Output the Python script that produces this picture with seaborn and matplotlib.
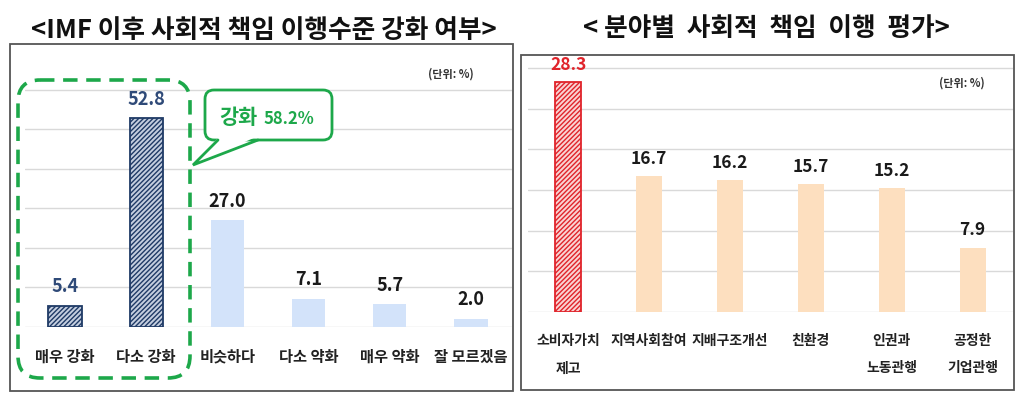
import matplotlib
matplotlib.use("Agg")
from matplotlib import pyplot as plt
from matplotlib.patches import FancyBboxPatch, Polygon, Rectangle
import seaborn as sns
import pandas as pd

# left chart: IMF 이후 사회적 책임 이행수준 강화 여부
left_cats = ['매우 강화', '다소 강화', '비슷하다', '다소 약화', '매우 약화', '잘 모르겠음']
left_vals = [5.4, 52.8, 27.0, 7.1, 5.7, 2.0]
left_hi = [True, True, False, False, False, False]

# right chart: 분야별 사회적 책임 이행 평가
right_cats = ['소비자가치\n제고', '지역사회참여', '지배구조개선', '친환경', '인권과\n노동관행', '공정한\n기업관행']
right_vals = [28.3, 16.7, 16.2, 15.7, 15.2, 7.9]
right_hi = [True, False, False, False, False, False]

left_title = '<IMF 이후 사회적 책임 이행수준 강화 여부>'
right_title = '< 분야별  사회적  책임  이행  평가>'
callout_word = '강화'
callout_value = '58.2%'
unit_text = '(단위: %)'

FONT = ['Noto Sans CJK KR', 'DejaVu Sans']
GREEN = '#1DA84A'
NAVY = '#1F3A66'
RED = '#E0242B'

sns.set_theme(style='white')
plt.rcParams['font.family'] = FONT
plt.rcParams['hatch.linewidth'] = 1.0

W, H = 1024, 398
fig = plt.figure(figsize=(W / 100, H / 100), dpi=100)


def px_axes(x0, x1, y_base, y_top):
    # axes placed by pixel coordinates (y measured from top)
    return fig.add_axes([x0 / W, 1 - y_base / H, (x1 - x0) / W, (y_base - y_top) / H])


def draw_bars(ax, cats, vals, hi, base_col, hi_face, hi_edge, width, hatch):
    df = pd.DataFrame({'cat': cats, 'val': vals})
    pal = [hi_face if h else base_col for h in hi]
    sns.barplot(data=df, x='cat', y='val', hue='cat', palette=pal, legend=False,
                width=width, ax=ax, saturation=1)
    for p, h in zip(ax.patches, hi):
        if h:
            p.set_hatch(hatch)
            p.set_edgecolor(hi_edge)
            p.set_linewidth(1.3)
        else:
            p.set_linewidth(0)
    ax.set_xlabel('')
    ax.set_ylabel('')
    ax.set_yticklabels([])
    ax.tick_params(left=False, bottom=False)
    for s in ax.spines.values():
        s.set_visible(False)
    ax.set_xlim(-0.5, len(cats) - 0.5)


# ---- left chart ----
axl = px_axes(24.5, 511.5, 327, 74)
draw_bars(axl, left_cats, left_vals, left_hi, '#D3E3FA', '#C4CEDF', NAVY, 0.41, '///////')
axl.set_ylim(0, 64)
axl.set_yticks(range(0, 61, 10))
axl.grid(axis='y', color='#D9D9D9', lw=1)
axl.set_axisbelow(True)
axl.tick_params(axis='x', pad=9.5, labelsize=11)
for t in axl.get_xticklabels():
    t.set_fontweight('bold')
    t.set_color('#222222')
for i, v in enumerate(left_vals):
    axl.annotate(f'{v:.1f}', (i, v), xytext=(0, 7), textcoords='offset points',
                 ha='center', va='bottom', fontsize=13, fontweight='bold',
                 color='#2F4A78' if left_hi[i] else '#1A1A1A')

# ---- right chart ----
axr = px_axes(528, 1013, 312, 60)
draw_bars(axr, right_cats, right_vals, right_hi, '#FDDFBF', '#F9D3D3', RED, 0.32, '///////')
axr.set_ylim(0, 31)
axr.set_yticks(range(0, 31, 5))
axr.grid(axis='y', color='#D9D9D9', lw=1)
axr.set_axisbelow(True)
axr.tick_params(axis='x', pad=10, labelsize=10)
for t in axr.get_xticklabels():
    t.set_fontweight('bold')
    t.set_color('#222222')
    t.set_linespacing(2.2)
for i, v in enumerate(right_vals):
    axr.annotate(f'{v:.1f}', (i, v), xytext=(0, 6), textcoords='offset points',
                 ha='center', va='bottom', fontsize=12.5, fontweight='bold',
                 color=RED if right_hi[i] else '#1A1A1A')

# ---- overlay in pixel coordinates ----
ov = fig.add_axes([0, 0, 1, 1], zorder=10)
ov.set_xlim(0, W)
ov.set_ylim(H, 0)
ov.axis('off')

# panel frames
ov.add_patch(Rectangle((10, 44), 503, 347, fill=False, ec='#555555', lw=1.3))
ov.add_patch(Rectangle((521, 55), 493, 335, fill=False, ec='#555555', lw=1.3))

# titles
ov.text(264, 30, left_title, ha='center', va='center', fontsize=18.5, fontweight='bold', color='#111111')
ov.text(766, 29, right_title, ha='center', va='center', fontsize=18.5, fontweight='bold', color='#111111')

# unit labels
ov.text(451, 74, unit_text, ha='center', va='center', fontsize=8, fontweight='bold', color='#333333')
ov.text(962, 83, unit_text, ha='center', va='center', fontsize=8, fontweight='bold', color='#333333')

# green dashed group box
ov.add_patch(FancyBboxPatch((18, 80), 172, 298, boxstyle='round,pad=0,rounding_size=22',
                            fill=False, ec=GREEN, lw=2.6, ls=(0, (4, 2.4))))

# callout
ov.add_patch(FancyBboxPatch((205, 90), 127, 50, boxstyle='round,pad=0,rounding_size=9',
                            fc='white', ec=GREEN, lw=2))
ov.add_patch(Polygon([(219, 137), (194, 164), (256, 137)], closed=True, fc='white', ec='none', zorder=3))
ov.plot([218, 193, 258], [140, 165, 140], color=GREEN, lw=2, solid_joinstyle='miter', zorder=4)
ov.text(238, 117, callout_word, ha='center', va='center', fontsize=15, fontweight='bold', color=GREEN)
ov.text(289, 119, callout_value, ha='center', va='center', fontsize=12, fontweight='bold', color=GREEN)

fig.savefig('out.png', dpi=100)
